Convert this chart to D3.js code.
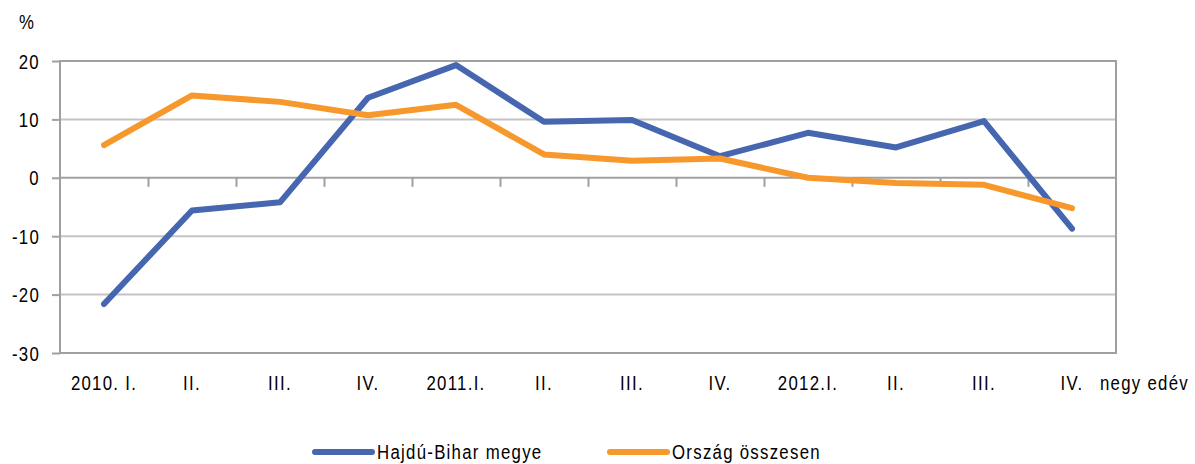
<!DOCTYPE html>
<html><head><meta charset="utf-8">
<script src="https://cdn.jsdelivr.net/npm/d3@7"></script>
<style>
body{margin:0;background:#fff;}
text{font-family:"Liberation Sans",Arial,sans-serif;fill:#000;}
</style></head>
<body><svg id="c" width="1195" height="464"></svg>
<script>
const categories = ["2010. I.","II.","III.","IV.","2011.I.","II.","III.","IV.","2012.I.","II.","III.","IV."];
const hajduBihar = [-21.6,-5.6,-4.2,13.7,19.3,9.6,9.9,3.7,7.7,5.2,9.7,-8.7];
const orszag = [5.6,14.1,13.0,10.7,12.5,4.0,2.9,3.3,0.0,-0.9,-1.2,-5.2];
const yTicks = [20,10,0,-10,-20,-30];
const seriesNames = ["Hajdú-Bihar megye","Ország összesen"];
const colors = ["#4666B0","#F7982D"];

const svg = d3.select("#c");
const L=60,R=1116,T=61,B=353;
const x = d3.scaleBand().domain(d3.range(categories.length)).range([L,R]);
const y = d3.scaleLinear().domain([-30,20]).range([B,T]);
const FS = 21, SX = 0.8, LS = 1.6;

function txt(g, px, py, s, anchor){
  return g.append("text")
    .attr("transform",`translate(${px},${py}) scale(${SX},1)`)
    .attr("text-anchor",anchor||"start")
    .attr("font-size",FS).attr("letter-spacing",LS)
    .text(s);
}

// gridlines
svg.append("g").selectAll("line").data(yTicks.filter(v=>v!==0&&v!==20&&v!==-30)).join("line")
  .attr("x1",L).attr("x2",R).attr("y1",d=>y(d)).attr("y2",d=>y(d))
  .attr("stroke","#C4C4C4").attr("stroke-width",2);

// y axis ticks
const ya = svg.append("g").attr("transform",`translate(${L},0)`)
  .call(d3.axisLeft(y).tickValues(yTicks).tickSize(8).tickFormat(""));
ya.select(".domain").remove();
ya.selectAll(".tick line").attr("stroke","#A0A0A0").attr("stroke-width",2);
const yl = svg.append("g");
yTicks.forEach(v=>txt(yl, 40, y(v)+7.5, String(v), "end"));

// border
svg.append("rect").attr("x",L).attr("y",T).attr("width",R-L).attr("height",B-T)
  .attr("fill","none").attr("stroke","#A0A0A0").attr("stroke-width",2);

// zero axis with ticks
const xa = svg.append("g").attr("transform",`translate(0,${y(0)})`)
  .call(d3.axisBottom(d3.scaleLinear().domain([0,categories.length]).range([L,R]))
    .tickValues(d3.range(1,categories.length)).tickSize(9).tickFormat(""));
xa.select(".domain").attr("d",`M${L},0H${R}`).attr("stroke","#A0A0A0").attr("stroke-width",2);
xa.selectAll(".tick line").attr("stroke","#A0A0A0").attr("stroke-width",2);

// category labels
const xl = svg.append("g");
categories.forEach((c,i)=>txt(xl, x(i)+x.bandwidth()/2, 390, c, "middle"));
txt(svg, 1100, 390, "negy edév");
txt(svg, 19, 29, "%");

// lines
const line = d3.line().x((d,i)=>x(i)+x.bandwidth()/2).y(d=>y(d));
[hajduBihar,orszag].forEach((s,k)=>{
  svg.append("path").datum(s).attr("d",line).attr("fill","none")
    .attr("stroke",colors[k]).attr("stroke-width",6).attr("stroke-linecap","round").attr("stroke-linejoin","round");
});

// legend
const legX=[315,610];
seriesNames.forEach((n,k)=>{
  svg.append("line").attr("x1",legX[k]).attr("x2",legX[k]+57).attr("y1",452).attr("y2",452)
    .attr("stroke",colors[k]).attr("stroke-width",6).attr("stroke-linecap","round");
  txt(svg, legX[k]+62, 459, n);
});
</script></body></html>
